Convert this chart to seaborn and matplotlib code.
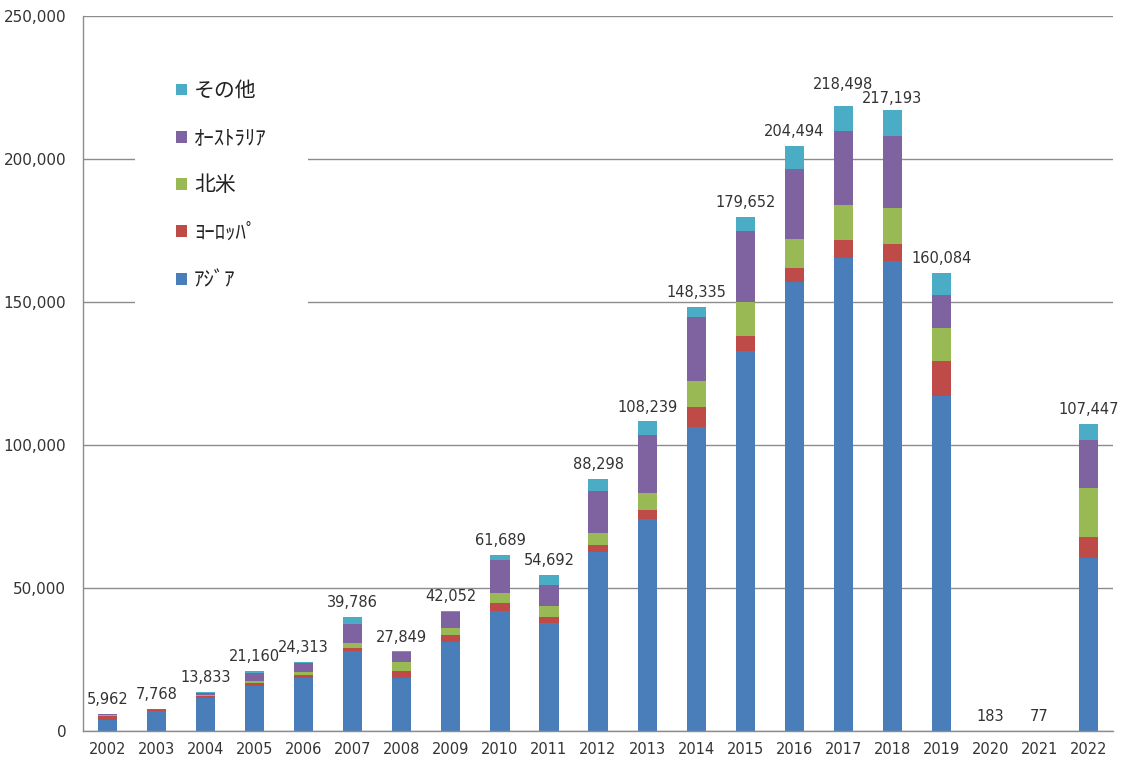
import numpy as np
import pandas as pd
import matplotlib
matplotlib.use("Agg")
import matplotlib.pyplot as plt
import seaborn as sns
from matplotlib.patches import Patch
from matplotlib.ticker import FuncFormatter, MultipleLocator, FixedLocator

# ---- data ----
years = [str(y) for y in range(2002, 2023)]
asia = [4000, 7100, 11500, 15900, 18400, 28100, 18500, 31000, 42000, 37800, 62650,
        74200, 106400, 133000, 157000, 165300, 164500, 117100, 0, 0, 60350]
europe = [1400, 250, 700, 850, 1300, 1100, 2600, 2600, 2700, 2200, 2560,
          3140, 7000, 5200, 5000, 6500, 5800, 12450, 183, 77, 7570]
north_america = [100, 200, 400, 650, 900, 1700, 3000, 2500, 3500, 3700, 4080,
                 5820, 9000, 11900, 9900, 12200, 12550, 11500, 0, 0, 17150]
australia = [400, 150, 600, 2860, 3250, 6400, 3400, 5600, 11600, 7500, 14560,
             20400, 22200, 24700, 24450, 25800, 25250, 11500, 0, 0, 16650]
other = [62, 68, 633, 900, 463, 2486, 349, 352, 1889, 3492, 4448,
         4679, 3735, 4852, 8144, 8698, 9093, 7534, 0, 0, 5727]
totals = [5962, 7768, 13833, 21160, 24313, 39786, 27849, 42052, 61689, 54692, 88298,
          108239, 148335, 179652, 204494, 218498, 217193, 160084, 183, 77, 107447]

series_names = ["ｱｼﾞｱ", "ﾖｰﾛｯﾊﾟ", "北米", "ｵｰｽﾄﾗﾘｱ", "その他"]
series_values = [asia, europe, north_america, australia, other]
colors = ["#4A7EBB", "#BE4B48", "#98B954", "#7F63A1", "#4BACC6"]

# ---- style ----
sns.set_style("white")
plt.rcParams["font.family"] = ["DejaVu Sans", "Noto Sans CJK JP"]

fig = plt.figure(figsize=(11.21, 7.6), dpi=100)
ax = fig.add_axes([0.074, 0.038, 0.919, 0.941])

bottom = np.zeros(len(years))
for name, vals, col in zip(series_names, series_values, colors):
    sns.barplot(x=years, y=vals, bottom=bottom, color=col, width=0.39,
                saturation=1, ax=ax, order=years, label=name, errorbar=None,
                linewidth=0, edgecolor="none")
    bottom = bottom + np.array(vals)

# label nudges (points) so that the two tallest labels do not collide
label_nudge = {15: 5, 16: -2}
for i, t in enumerate(totals):
    ax.annotate(f"{t:,}", (i, t), xytext=(0, 5 + label_nudge.get(i, 0)),
                textcoords="offset points", ha="center", va="bottom",
                fontsize=10.5, color="#333333")

ax.set_xlim(-0.5, len(years) - 0.5)
ax.set_ylim(0, 250000)
ax.yaxis.set_major_locator(MultipleLocator(50000))
ax.yaxis.set_major_formatter(FuncFormatter(lambda v, p: f"{int(v):,}"))
ax.yaxis.grid(True, color="#8c8c8c", lw=1)
ax.xaxis.grid(False)
ax.set_axisbelow(True)

for s in ["top", "right"]:
    ax.spines[s].set_visible(False)
for s in ["left", "bottom"]:
    ax.spines[s].set_color("#8c8c8c")
    ax.spines[s].set_linewidth(1)

ax.tick_params(axis="y", which="major", length=5, color="#8c8c8c",
               labelsize=11, labelcolor="#333333", pad=7)
ax.tick_params(axis="x", which="major", length=0, labelsize=10.5,
               labelcolor="#333333", pad=8)
ax.xaxis.set_minor_locator(FixedLocator(np.arange(-0.5, len(years), 1)))
ax.tick_params(axis="x", which="minor", length=5, color="#8c8c8c")
ax.set_xlabel("")
ax.set_ylabel("")

handles = [Patch(facecolor=c, edgecolor="none") for c in colors][::-1]
labels = series_names[::-1]
leg = ax.legend(handles, labels, loc="upper left",
                bbox_to_anchor=(0.040, 0.982), fontsize=15,
                frameon=True, facecolor="white", edgecolor="none", framealpha=1,
                fancybox=False, handlelength=0.5, handleheight=0.5,
                handletextpad=0.35, labelspacing=1.31, borderpad=2.0)
for t in leg.get_texts():
    t.set_color("#222222")

fig.savefig("out.png", dpi=100)
